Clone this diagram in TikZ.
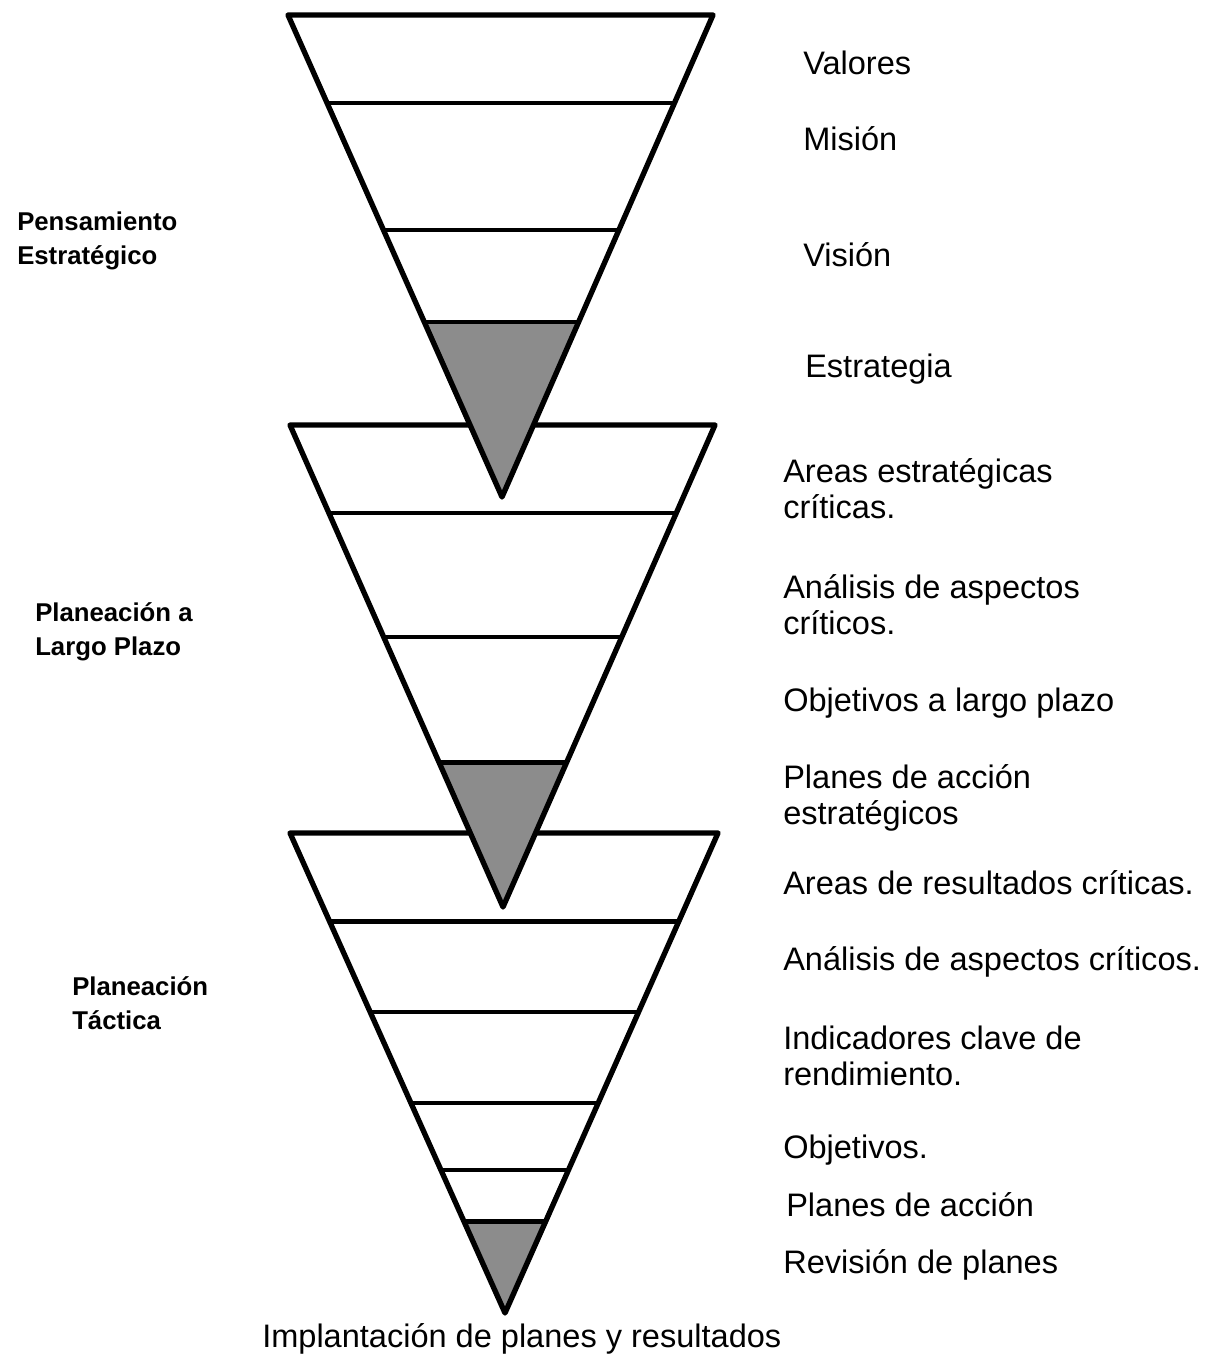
\documentclass[tikz,border=0pt]{standalone}
\usepackage{fontspec}
\setmainfont{Liberation Sans}
\usetikzlibrary{calc}
\begin{document}
\begin{tikzpicture}[x=0.75pt,y=-0.75pt,
  outline/.style={line width=4pt, line join=round, line cap=round},
  band/.style={line width=3.6pt},
  tip/.style={fill=black!45},
  lbl/.style={anchor=base west, inner sep=0pt, align=left, font=\fontsize{24.4}{26.5}\selectfont},
  phase/.style={anchor=base west, inner sep=0pt, align=left, font=\bfseries\fontsize{19.3}{25}\selectfont}]
\useasboundingbox (0,0) rectangle (1207,1361);

% ---- bottom funnel: tactical planning ----
\coordinate (c1) at (290,833); \coordinate (c2) at (718,833); \coordinate (c0) at (505,1313);
\fill[tip] ($(c1)!0.81!(c0)$) -- ($(c2)!0.81!(c0)$) -- (c0) -- cycle;
\foreach \t in {0.185,0.373,0.5625,0.702,0.81}
  \draw[band] ($(c1)!\t!(c0)$) -- ($(c2)!\t!(c0)$);
\draw[outline] (c1) -- (c2) -- (c0) -- cycle;

% ---- middle funnel: long-range planning ----
\coordinate (b1) at (290,425); \coordinate (b2) at (715,425); \coordinate (b0) at (503,907);
\fill[tip] ($(b1)!0.701!(b0)$) -- ($(b2)!0.701!(b0)$) -- (b0) -- cycle;
\foreach \t in {0.1826,0.44,0.701}
  \draw[band] ($(b1)!\t!(b0)$) -- ($(b2)!\t!(b0)$);
\draw[outline] (b1) -- (b2) -- (b0) -- cycle;

% ---- top funnel: strategic thinking ----
\coordinate (a1) at (288,15); \coordinate (a2) at (713,15); \coordinate (a0) at (502,497);
\fill[tip] ($(a1)!0.637!(a0)$) -- ($(a2)!0.637!(a0)$) -- (a0) -- cycle;
\foreach \t in {0.1826,0.446,0.637}
  \draw[band] ($(a1)!\t!(a0)$) -- ($(a2)!\t!(a0)$);
\draw[outline] (a1) -- (a2) -- (a0) -- cycle;

% ---- phase names (anchored on the last line) ----
\node[phase] (p1) at (17,264) {Pensamiento\\Estratégico};
\node[phase] (p2) at (35,655) {Planeación a\\Largo Plazo};
\node[phase] (p3) at (72,1029) {Planeación\\Táctica};

% ---- level labels ----
\node[lbl] (l1) at (803,74) {Valores};
\node[lbl] (l2) at (803,150) {Misión};
\node[lbl] (l3) at (803,266) {Visión};
\node[lbl] (l4) at (805,377) {Estrategia};

\node[lbl] (m1) at (783,518) {Areas estratégicas\\críticas.};
\node[lbl] (m2) at (783,634) {Análisis de aspectos\\críticos.};
\node[lbl] (m3) at (783,711) {Objetivos a largo plazo};
\node[lbl] (m4) at (783,824) {Planes de acción\\estratégicos};

\node[lbl] (n1) at (783,894) {Areas de resultados críticas.};
\node[lbl] (n2) at (783,970) {Análisis de aspectos críticos.};
\node[lbl] (n3) at (783,1085) {Indicadores clave de\\rendimiento.};
\node[lbl] (n4) at (783,1158) {Objetivos.};
\node[lbl] (n5) at (786,1216) {Planes de acción};
\node[lbl] (n6) at (783,1273) {Revisión de planes};

\node[lbl] (out) at (262,1347) {Implantación de planes y resultados};
\end{tikzpicture}
\end{document}
